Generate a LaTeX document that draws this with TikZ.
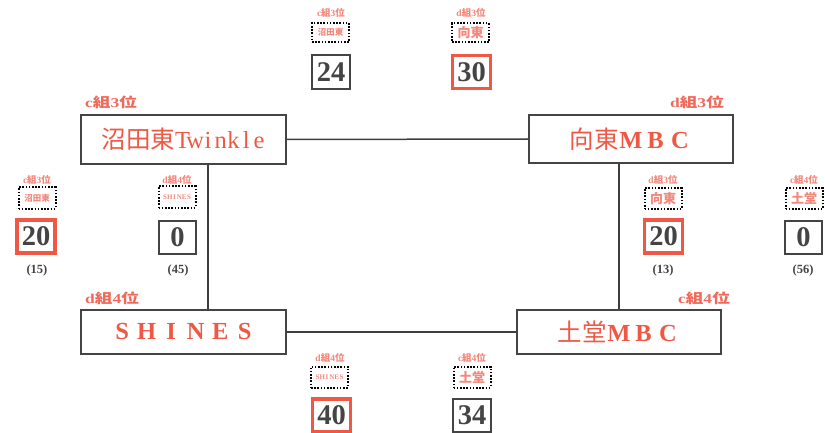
\documentclass[tikz,border=0pt]{standalone}
\usepackage{fontspec}
\usepackage{graphicx}
\setmainfont{Liberation Serif}
\newfontfamily\cjk{Noto Sans CJK JP}
\definecolor{tred}{HTML}{EE5844}
\definecolor{tlab}{HTML}{F06A5C}
\definecolor{tsmall}{HTML}{F4867A}
\definecolor{tgray}{HTML}{444444}
\newcommand\fwc[1]{\makebox[1em]{#1}}
\newcommand\hwc[1]{\makebox[0.52em]{#1}}
\newcommand\grplab[2]{\scalebox{1.3}[1]{\bfseries #1{\cjk 組}#2{\cjk 位}}}
\newcommand\sgrplab[2]{\bfseries #1{\cjk 組}#2{\cjk 位}}
\newcommand\shn{\bfseries\makebox[4.8pt]{S}\makebox[4.8pt]{H}\makebox[4.8pt]{I}\makebox[4.8pt]{N}\makebox[4.8pt]{E}\makebox[4.8pt]{S}}
\begin{document}
\begin{tikzpicture}[x=1pt,y=-1pt,
  team/.style={draw=tgray,line width=2pt,text=tred,inner sep=0pt,font=\fontsize{24.5}{26}\selectfont},
  glab/.style={text=tlab,inner sep=0pt,font=\fontsize{13.5}{14}\selectfont},
  slab/.style={text=tsmall,inner sep=0pt,font=\fontsize{9.5}{10}\selectfont},
  dotbox/.style={draw=black,line width=2pt,dash pattern=on 1.6pt off 1.6pt,minimum width=37,minimum height=19,inner sep=0pt,text=tsmall},
  score/.style={draw=tgray,line width=2.2pt,text=tgray,inner sep=0pt,minimum width=37.5,minimum height=33.5,font=\fontsize{28.5}{29}\selectfont\bfseries},
  win/.style={score,draw=tred,line width=3.2pt,minimum width=38,minimum height=33},
  paren/.style={text=tgray,inner sep=0pt,font=\fontsize{12.5}{13}\selectfont\bfseries},
  conn/.style={draw=tgray!90!black,line width=1.5pt}]
\useasboundingbox (0,0) rectangle (825,433);

% main team boxes
\node[team,minimum width=205,minimum height=49] (t1) at (183.5,139.5) {{\cjk 沼田東}\hspace{1pt}\hwc{T}\hwc{w}\hwc{i}\hwc{n}\hwc{k}\hwc{l}\hwc{e}};
\node[team,minimum width=204,minimum height=48] (t2) at (631,139) {{\cjk 向東}\bfseries\fwc{M}\fwc{B}\fwc{C}};
\node[team,minimum width=205,minimum height=44] (t3) at (183.5,332) {\bfseries\fwc{S}\fwc{H}\fwc{I}\fwc{N}\fwc{E}\fwc{S}};
\node[team,minimum width=204,minimum height=44] (t4) at (619,332) {{\cjk 土堂}\bfseries\fwc{M}\fwc{B}\fwc{C}};

% group labels
\node[glab,anchor=base west] (g1) at (85,108) {\grplab{c}{3}};
\node[glab,anchor=base east] (g2) at (724,108) {\grplab{d}{3}};
\node[glab,anchor=base west] (g3) at (85,303) {\grplab{d}{4}};
\node[glab,anchor=base east] (g4) at (730,303) {\grplab{c}{4}};

% connectors
\coordinate (v1) at (208,0);
\draw[conn] (t1.east) -- (t2.west);
\draw[conn] (t3.east) -- (t4.west);
\draw[conn] (t1.south -| v1) -- (t3.north -| v1);
\draw[conn] (t2.south -| t4.north) -- (t4.north);

% top pair
\node[slab] (l1) at (331,12.5) {\sgrplab{c}{3}};
\node[dotbox,font=\fontsize{8.5}{9}\selectfont] (d1) at (330.5,32.5) {\cjk\bfseries 沼田東};
\node[score] (s1) at (331,72) {24};
\node[slab] (l2) at (471,12.5) {\sgrplab{d}{3}};
\node[dotbox,font=\fontsize{13}{14}\selectfont] (d2) at (470.5,33) {\cjk\bfseries 向東};
\node[win] (s2) at (471.5,72) {30};

% left pair
\node[slab] (l3) at (37,180) {\sgrplab{c}{3}};
\node[dotbox,minimum height=21,font=\fontsize{8.5}{9}\selectfont] (d3) at (37,198) {\cjk\bfseries 沼田東};
\node[win] (s3) at (36,236.5) {20};
\node[paren] (p3) at (37,270.5) {(15)};
\node[slab] (l4) at (177,180) {\sgrplab{d}{4}};
\node[dotbox,minimum height=21,font=\fontsize{7}{7}\selectfont] (d4) at (177,197) {\shn};
\node[score] (s4) at (177.5,237.5) {0};
\node[paren] (p4) at (178,270.5) {(45)};

% right pair
\node[slab] (l5) at (663,180) {\sgrplab{d}{3}};
\node[dotbox,minimum height=21,font=\fontsize{13}{14}\selectfont] (d5) at (663,198.5) {\cjk\bfseries 向東};
\node[win] (s5) at (663.5,236.5) {20};
\node[paren] (p5) at (663,270.5) {(13)};
\node[slab] (l6) at (804,180) {\sgrplab{c}{4}};
\node[dotbox,minimum height=21,font=\fontsize{13}{14}\selectfont] (d6) at (804,198.5) {\cjk\bfseries 土堂};
\node[score] (s6) at (803.5,237.5) {0};
\node[paren] (p6) at (803,270.5) {(56)};

% bottom pair
\node[slab] (l7) at (330,357.5) {\sgrplab{d}{4}};
\node[dotbox,minimum height=21,font=\fontsize{7}{7}\selectfont] (d7) at (329.5,377) {\shn};
\node[win] (s7) at (331.5,415.5) {40};
\node[slab] (l8) at (472,357.5) {\sgrplab{c}{4}};
\node[dotbox,minimum height=21,font=\fontsize{13}{14}\selectfont] (d8) at (472,377) {\cjk\bfseries 土堂};
\node[score] (s8) at (472,415.5) {34};
\end{tikzpicture}
\end{document}
